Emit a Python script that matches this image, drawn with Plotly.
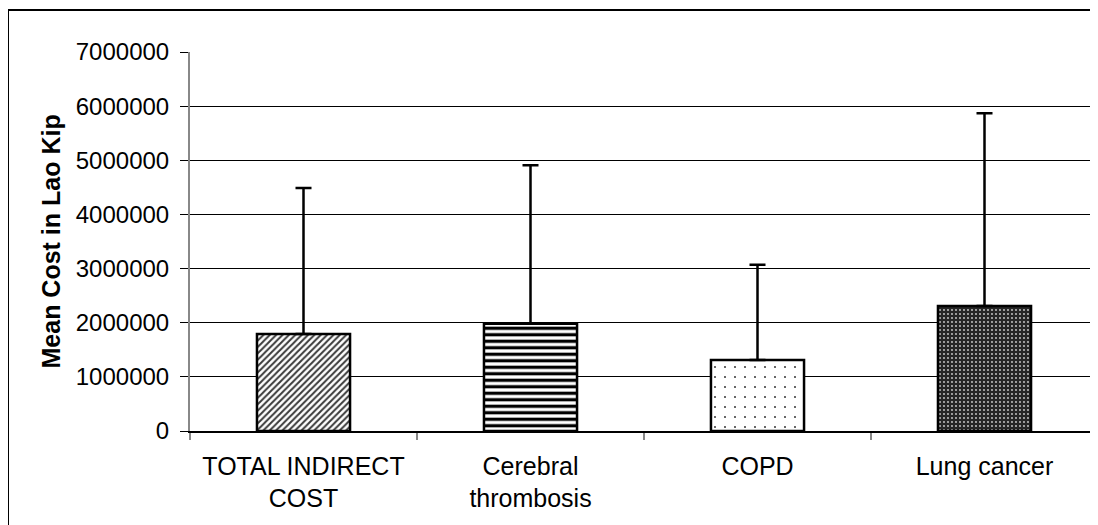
import plotly.graph_objects as go

categories = ["TOTAL INDIRECT<br>COST", "Cerebral<br>thrombosis", "COPD", "Lung cancer"]
mean_cost = [1790000, 1980000, 1310000, 2310000]
sd_plus = [2700000, 2930000, 1760000, 3560000]
y_ticks = [0, 1000000, 2000000, 3000000, 4000000, 5000000, 6000000, 7000000]

pattern_shapes = ["/", "-", ".", "."]
bg_colors = ["white", "white", "white", "#262626"]
fg_colors = ["#3a3a3a", "black", "#333333", "#d4d4d4"]
pattern_sizes = [4.5, 6.5, 10, 4]
solidities = [0.45, 0.5, 0.03, 0.16]

FONT = "Liberation Sans, Arial, sans-serif"
# page body has an 8px default margin; figure fills the rest of the window
W, H = 1090, 517
L, R, T, B = 182, 0, 44, 94
pw, ph = W - L - R, H - T - B

fig = go.Figure()
for i, cat in enumerate(categories):
    fig.add_trace(go.Bar(
        x=[cat],
        y=[mean_cost[i]],
        width=0.41,
        marker=dict(
            color=bg_colors[i],
            line=dict(color="black", width=2.5),
            pattern=dict(shape=pattern_shapes[i], fgcolor=fg_colors[i], bgcolor=bg_colors[i],
                         size=pattern_sizes[i], solidity=solidities[i], fillmode="replace"),
        ),
        error_y=dict(type="data", symmetric=False, array=[sd_plus[i]],
                     arrayminus=[0], color="black", thickness=2.5, width=8),
        showlegend=False,
    ))

fig.update_layout(
    width=W, height=H,
    margin=dict(l=L, r=R, t=T, b=B, pad=0),
    paper_bgcolor="white", plot_bgcolor="white",
    font=dict(family=FONT, size=24, color="black"),
    barmode="overlay",
    xaxis=dict(
        type="category", range=[-0.5, 3.5], categoryorder="array", categoryarray=categories,
        showline=True, linecolor="black", linewidth=1.5,
        ticks="outside", tickson="boundaries", ticklen=7, tickcolor="#888888", tickwidth=1.5,
        showgrid=False, ticklabelstandoff=12,
        tickfont=dict(family=FONT, size=25, color="black"),
    ),
    yaxis=dict(
        range=[0, 7000000], tickvals=y_ticks, ticktext=[str(v) for v in y_ticks],
        showline=True, linecolor="#888888", linewidth=2,
        ticks="outside", ticklen=8, tickcolor="black", tickwidth=1.2,
        showgrid=True, gridcolor="black", gridwidth=1, zeroline=False,
        ticklabelstandoff=6,
        tickfont=dict(family=FONT, size=24, color="black"),
    ),
)

fig.add_annotation(
    text="<b>Mean Cost in Lao Kip</b>", textangle=-90,
    xref="paper", yref="paper", x=(42 - L) / pw, y=0.5,
    xanchor="center", yanchor="middle", showarrow=False,
    font=dict(family=FONT, size=25, color="black"),
)

# outer chart border (only left and top edges fall inside the picture)
bx0 = (0 - L) / pw
by1 = (T + ph - 2) / ph
fig.add_shape(type="line", xref="paper", yref="paper", x0=bx0, x1=1.2, y0=by1, y1=by1,
              line=dict(color="black", width=2), layer="above")
fig.add_shape(type="line", xref="paper", yref="paper", x0=bx0, x1=bx0, y0=by1, y1=-0.5,
              line=dict(color="black", width=2), layer="above")

fig.write_html("out.html")
